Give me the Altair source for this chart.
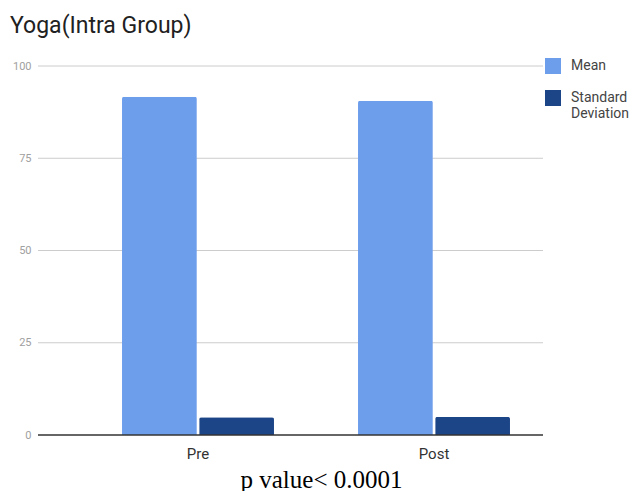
import altair as alt
import pandas as pd

categories = ["Pre", "Post"]
series = ["Mean", "Standard Deviation"]
mean_values = [91.7, 90.6]
sd_values = [4.8, 4.9]
y_ticks = [0, 25, 50, 75, 100]

rows = []
for c, m, s in zip(categories, mean_values, sd_values):
    rows.append({"cat": c, "series": series[0], "value": m})
    rows.append({"cat": c, "series": series[1], "value": s})
df = pd.DataFrame(rows)
grid_df = pd.DataFrame({"value": y_ticks[1:]})

W, H = 505, 369

yscale = alt.Scale(domain=[0, 100], nice=False)
yaxis = alt.Axis(
    title=None,
    values=y_ticks,
    labelFont="Roboto",
    labelFontSize=11,
    labelColor="#a0a0a0",
    labelPadding=7,
    ticks=False,
    domain=False,
    grid=False,
)

grid = alt.Chart(grid_df).mark_rule(color="#cccccc", strokeWidth=1).encode(
    y=alt.Y("value:Q", scale=yscale, axis=yaxis),
    x=alt.value(0),
    x2=alt.value(W),
)

bars = alt.Chart(df).mark_bar(cornerRadiusTopLeft=2, cornerRadiusTopRight=2).encode(
    x=alt.X(
        "cat:N",
        sort=categories,
        scale=alt.Scale(range=[42, 514], paddingInner=0.356, paddingOuter=0.178),
        axis=alt.Axis(
            title="p value< 0.0001",
            titleFont="Liberation Serif",
            titleFontSize=25,
            titleFontWeight="normal",
            titleColor="#000000",
            titleX=283,
            titleY=52,
            titleAlign="center",
            titleBaseline="alphabetic",
            labelAngle=0,
            labelFont="Roboto",
            labelFontSize=15,
            labelColor="#333333",
            labelPadding=11,
            ticks=False,
            domain=False,
            grid=False,
        ),
    ),
    xOffset=alt.XOffset("series:N", sort=series, scale=alt.Scale(paddingInner=0.03, paddingOuter=0)),
    y=alt.Y("value:Q", scale=yscale, axis=yaxis),
    color=alt.Color(
        "series:N",
        sort=series,
        scale=alt.Scale(domain=series, range=["#6d9eeb", "#1c4587"]),
        legend=alt.Legend(
            title=None,
            orient="none",
            legendX=507,
            legendY=-8,
            padding=0,
            symbolType="square",
            symbolSize=256,
            symbolStrokeWidth=0,
            labelFont="Roboto",
            labelFontSize=14,
            labelColor="#444444",
            labelOffset=10,
            rowPadding=16,
            labelExpr="datum.label == 'Standard Deviation' ? ['Standard', 'Deviation'] : datum.label",
        ),
    ),
)

baseline = alt.Chart(pd.DataFrame({"value": [0]})).mark_rule(color="#333333", strokeWidth=1.5).encode(
    y=alt.Y("value:Q", scale=yscale, axis=yaxis)
)

chart = alt.layer(grid, bars, baseline).properties(
    width=W,
    height=H,
    title=alt.TitleParams(
        "Yoga(Intra Group)",
        anchor="start",
        frame="group",
        font="Roboto",
        fontSize=23,
        fontWeight="normal",
        color="#212121",
        dx=-28,
        offset=2,
        baseline="alphabetic",
    ),
    autosize=alt.AutoSizeParams(type="none"),
    padding={"left": 30, "top": 58, "right": 86, "bottom": 56},
).configure_view(stroke=None)

chart.save("out.html", embed_options={"renderer": "svg", "actions": False})
